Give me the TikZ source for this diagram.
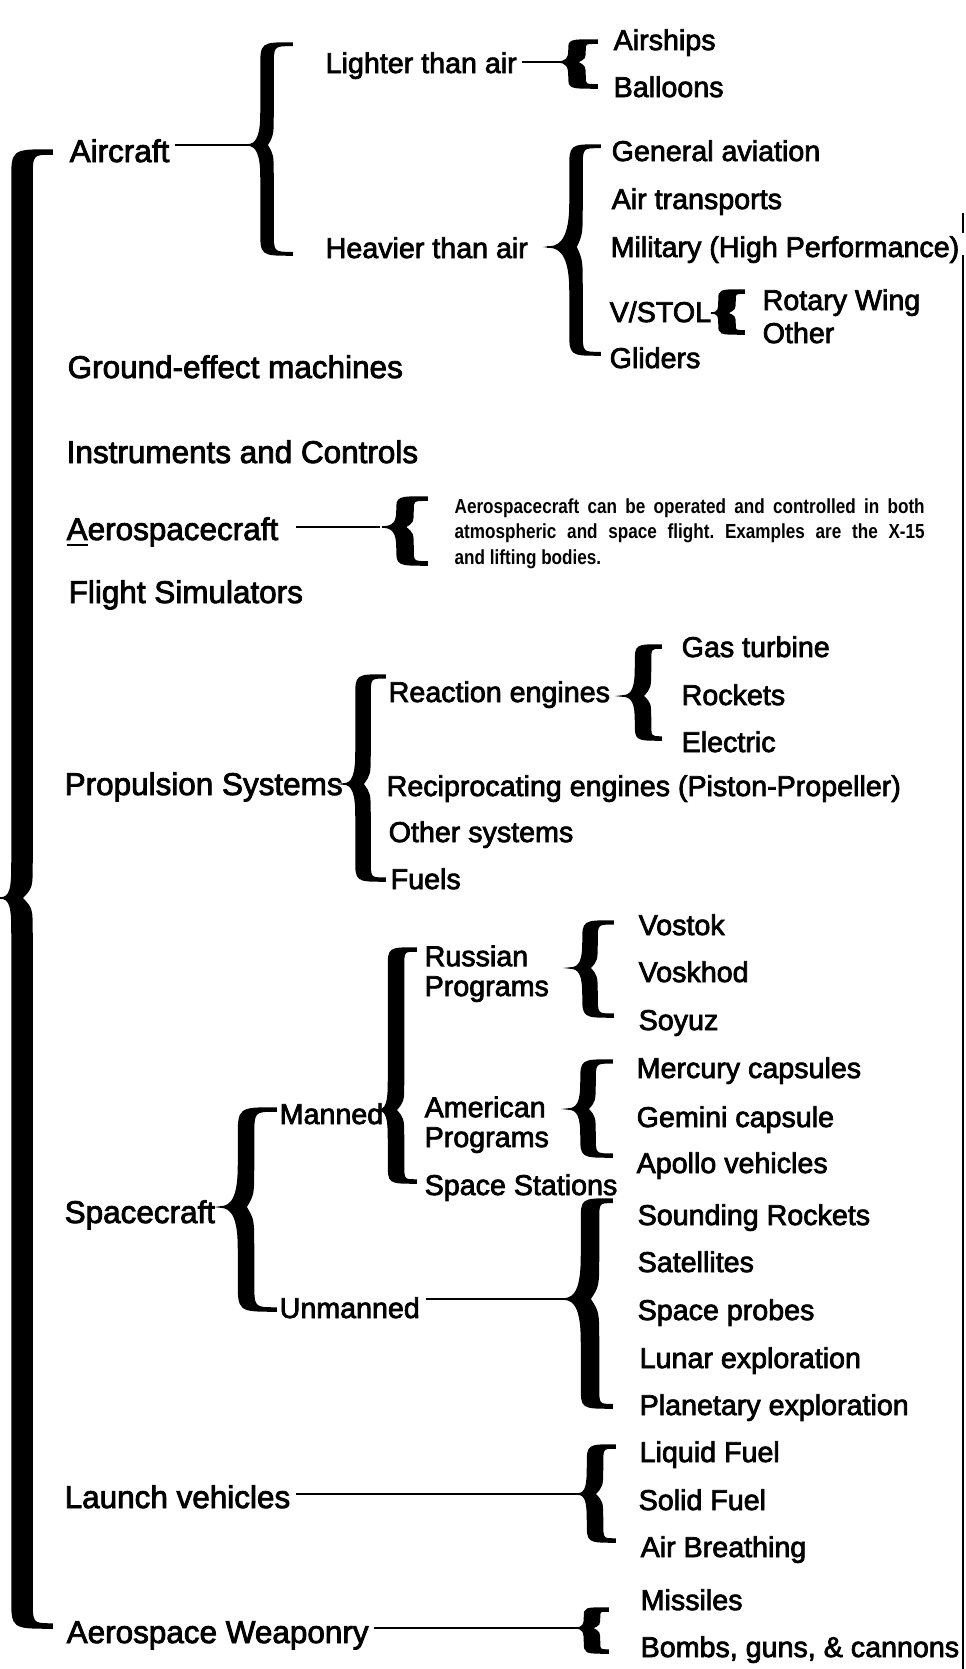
\documentclass[tikz,border=0pt]{standalone}
\usepackage{fontspec}
\setmainfont{Liberation Sans}
\newfontfamily\itemfont{Liberation Sans}[FakeBold=2.6]
\newfontfamily\notefont{Liberation Sans}[FakeStretch=0.84]

\newcommand{\headfont}{\itemfont\fontsize{8.95}{10}\selectfont}
\newcommand{\leaffont}{\itemfont\fontsize{8.15}{8.5}\selectfont}

% name, stem x, top, bottom, cusp, hook, depth, stem width
\newcommand{\heavybrace}[8]{%
  \pgfmathsetmacro\hbL{#2-#8/2}%
  \pgfmathsetmacro\hbR{#2+#8/2}%
  \pgfmathsetmacro\hbHa{min(#6,0.45*(#5-#3))}%
  \pgfmathsetmacro\hbHb{min(#6,0.45*(#4-#5))}%
  \pgfmathsetmacro\hbVa{min(1.6*#7,0.55*(#5-#3))}%
  \pgfmathsetmacro\hbVb{min(1.6*#7,0.55*(#4-#5))}%
  \coordinate (#1) at ({#2-#7},#5);
  \filldraw[brace ink]
    ({#2+#6},#3) .. controls (\hbL,#3) .. (\hbL,{#3+\hbHa})
    -- (\hbL,{#5-\hbVa}) .. controls (\hbL,{#5-0.3*\hbVa}) and ({#2-0.5*#7},#5) .. (#1)
    .. controls ({#2-0.5*#7},#5) and (\hbL,{#5+0.3*\hbVb}) .. (\hbL,{#5+\hbVb})
    -- (\hbL,{#4-\hbHb}) .. controls (\hbL,#4) .. ({#2+#6},#4)
    -- ({#2+#6},{#4-0.2*#8}) .. controls (\hbR,{#4-0.2*#8}) .. (\hbR,{#4-\hbHb})
    -- (\hbR,{#5+\hbVb}) .. controls (\hbR,{#5+0.3*\hbVb}) .. (#2,#5)
    .. controls (\hbR,{#5-0.3*\hbVa}) .. (\hbR,{#5-\hbVa})
    -- (\hbR,{#3+\hbHa}) .. controls (\hbR,{#3+0.2*#8}) .. ({#2+#6},{#3+0.2*#8})
    -- cycle;
}

\begin{document}
\begin{tikzpicture}
  [x=0.1mm,y=-0.1mm,
   head/.style={anchor=base west,inner sep=0pt,font=\headfont},
   leaf/.style={anchor=base west,inner sep=0pt,font=\leaffont},
   two/.style={leaf,align=left},
   brace ink/.style={fill=black,draw=black,line width=0.15mm},
   link/.style={line width=0.25mm,shorten <=0.5mm}]

  \useasboundingbox[fill=white] (0,0) rectangle (965,1669);

  \node[head] (aircraft)       at (69,162)  {Aircraft};
  \node[head] (ground)         at (67,378)  {Ground-effect machines};
  \node[head] (instruments)    at (66,463)  {Instruments and Controls};
  \node[head] (aerospacecraft) at (66,540)  {\underline{A}erospacecraft};
  \node[head] (simulators)     at (68,603)  {Flight Simulators};
  \node[head] (propulsion)     at (64,795)  {Propulsion Systems};
  \node[head] (spacecraft)     at (64,1223) {Spacecraft};
  \node[head] (launch)         at (64,1508) {Launch vehicles};
  \node[head] (weaponry)       at (66,1643) {Aerospace Weaponry};

  \node[leaf] (lighter)  at (325,73)  {Lighter than air};
  \node[leaf] (heavier)  at (325,258) {Heavier than air};
  \node[leaf] (airships) at (613,50)  {Airships};
  \node[leaf] (balloons) at (613,97)  {Balloons};
  \node[leaf] (general)  at (611,161) {General aviation};
  \node[leaf] (airtrans) at (611,209) {Air transports};
  \node[leaf] (military) at (610,257) {Military (High Performance)};
  \node[leaf] (vstol)    at (609,322) {V/STOL};
  \node[leaf] (rotary)   at (762,310) {Rotary Wing};
  \node[leaf] (otherw)   at (762,343) {Other};
  \node[leaf] (gliders)  at (609,368) {Gliders};

  \node[anchor=base west,inner sep=0pt,text width=47mm,align=justify,
        font=\notefont\bfseries\fontsize{5.8}{7.3}\selectfont\frenchspacing] (note) at (454,513)
    {Aerospacecraft can be operated and controlled in both\linebreak
     atmospheric and space flight. Examples are the \mbox{X-15}\linebreak
     and lifting bodies.};

  \node[leaf] (reaction) at (388,702) {Reaction engines};
  \node[leaf] (gas)      at (681,657) {Gas turbine};
  \node[leaf] (rockets)  at (681,705) {Rockets};
  \node[leaf] (electric) at (681,752) {Electric};
  \node[leaf] (recip)    at (386,796) {Reciprocating engines (Piston-Propeller)};
  \node[leaf] (othersys) at (388,842) {Other systems};
  \node[leaf] (fuels)    at (390,889) {Fuels};

  \node[leaf] (manned)   at (279,1124) {Manned};
  \node[leaf] (unmanned) at (279,1318) {Unmanned};
  \node[two]  (russian)  at (424,996)  {Russian\\Programs};
  \node[two]  (american) at (424,1147) {American\\Programs};
  \node[leaf] (stations) at (424,1195) {Space Stations};
  \node[leaf] (vostok)   at (638,935)  {Vostok};
  \node[leaf] (voskhod)  at (638,982)  {Voskhod};
  \node[leaf] (soyuz)    at (638,1030) {Soyuz};
  \node[leaf] (mercury)  at (636,1078) {Mercury capsules};
  \node[leaf] (gemini)   at (636,1127) {Gemini capsule};
  \node[leaf] (apollo)   at (636,1173) {Apollo vehicles};
  \node[leaf] (sounding) at (637,1225) {Sounding Rockets};
  \node[leaf] (sats)     at (637,1272) {Satellites};
  \node[leaf] (probes)   at (637,1320) {Space probes};
  \node[leaf] (lunar)    at (639,1368) {Lunar exploration};
  \node[leaf] (planet)   at (639,1415) {Planetary exploration};

  \node[leaf] (liquid)   at (639,1462) {Liquid Fuel};
  \node[leaf] (solid)    at (638,1510) {Solid Fuel};
  \node[leaf] (breath)   at (640,1557) {Air Breathing};
  \node[leaf] (missiles) at (640,1610) {Missiles};
  \node[leaf] (bombs)    at (640,1657) {Bombs, guns, \& cannons};

  \heavybrace{brMain}{22}{150}{1628}{898}{30}{22}{20}
  \heavybrace{brAir}{267}{43}{255}{145}{25}{20}{12}
  \heavybrace{brLight}{577}{40}{88}{62}{20}{20}{16}
  \heavybrace{brHeavy}{576}{145}{355}{247}{24}{27}{12}
  \heavybrace{brVstol}{727}{290}{334}{313}{17}{16}{16}
  \heavybrace{brAero}{405}{497}{565}{527}{22}{23}{16}
  \heavybrace{brProp}{363}{675}{881}{784}{22}{20}{14}
  \heavybrace{brReact}{643}{645}{740}{696}{18}{21}{15}
  \heavybrace{brRuss}{590}{921}{1017}{968}{23}{20}{14}
  \heavybrace{brAmer}{588}{1060}{1157}{1109}{24}{20}{14}
  \heavybrace{brManned}{396}{948}{1183}{1110}{20}{18}{15}
  \heavybrace{brSpace}{246}{1108}{1311}{1207}{30}{26}{15}
  \heavybrace{brUnm}{590}{1199}{1408}{1299}{22}{27}{17}
  \heavybrace{brLaunch}{595}{1445}{1542}{1494}{20}{18}{15}
  \heavybrace{brWeap}{592}{1608}{1653}{1628}{16}{17}{15}

  \path[link]
    (aircraft.east |- brAir) edge (brAir)
    (lighter.east |- brLight) edge (brLight)
    ([xshift=1.3mm]heavier.east |- brHeavy) edge (brHeavy)
    ([xshift=1.2mm]aerospacecraft.east |- brAero) edge ([xshift=-0.2mm]brAero)
    (unmanned.east |- brUnm) edge (brUnm)
    (launch.east |- brLaunch) edge (brLaunch)
    (weaponry.east |- brWeap) edge (brWeap);

  \draw[line width=0.2mm] (963,213) -- (963,233) (963,255) -- (963,1669);
\end{tikzpicture}
\end{document}
